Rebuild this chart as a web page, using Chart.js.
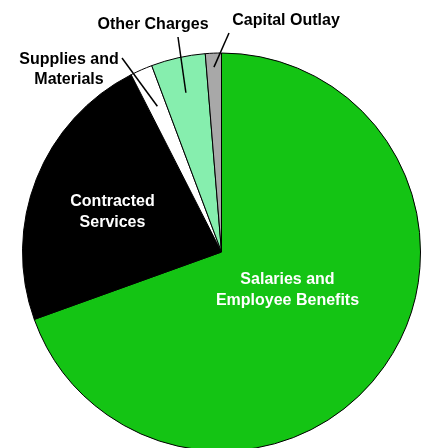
<!DOCTYPE html>
<html lang="en">
<head>
<meta charset="UTF-8">
<title>Expenditures</title>
<style>
    html, body {
        margin: 0;
        padding: 0;
        overflow: hidden;
        background: #ffffff;
    }
    .wrap {
        position: absolute;
        left: 0;
        top: 0;
        width: 423px;
        height: 500px;
    }
</style>
<script src="https://cdn.jsdelivr.net/npm/chart.js"></script>
</head>
<body>
<div class="wrap">
    <canvas id="pieChart"></canvas>
</div>
<script>
    // slices, clockwise from 12 o'clock
    const categories = ['Salaries and Employee Benefits', 'Contracted Services', 'Supplies and Materials', 'Other Charges', 'Capital Outlay'];
    const shares = [69.5, 23.0, 1.8, 4.4, 1.3];
    const sliceColors = ['#14c414', '#000000', '#ffffff', '#86eeae', '#a8a8a8'];

    // label text lines
    const insideLabels = [['Salaries and', 'Employee Benefits'], ['Contracted', 'Services']];
    const outsideLabels = [['Supplies and', 'Materials'], ['Other Charges'], ['Capital Outlay']];

    const labelPlugin = {
        id: 'sliceLabels',
        afterDraw(chart) {
            const c = chart.ctx;
            const arcs = chart.getDatasetMeta(0).data;
            const cx = arcs[0].x, cy = arcs[0].y, r = arcs[0].outerRadius;
            c.save();
            c.font = 'bold 16px "Liberation Sans", Arial, sans-serif';
            c.textAlign = 'center';
            c.textBaseline = 'middle';

            // white text inside the two big slices (offsets from centre)
            const inside = [[66, 38], [-109, -40]];
            insideLabels.forEach((lines, i) => {
                const tx = cx + inside[i][0];
                const ty = cy + inside[i][1];
                c.fillStyle = '#ffffff';
                lines.forEach((t, k) => c.fillText(t, tx, ty + k * 21 - (lines.length - 1) * 10.5));
            });

            // outer labels with leader lines into the thin slices
            const spots = [
                {x: 69, y: 60, from: [122, 58], depth: 0.80},
                {x: 153, y: 25, from: [178, 37], depth: 0.82},
                {x: 286, y: 21, from: [229, 33], depth: 0.93}
            ];
            outsideLabels.forEach((lines, i) => {
                const arc = arcs[i + 2];
                const mid = (arc.startAngle + arc.endAngle) / 2;
                const s = spots[i];
                c.fillStyle = '#000000';
                lines.forEach((t, k) => c.fillText(t, s.x, s.y + k * 20));
                c.strokeStyle = '#000000';
                c.lineWidth = 1.5;
                c.beginPath();
                c.moveTo(s.from[0], s.from[1]);
                c.lineTo(cx + Math.cos(mid) * r * s.depth, cy + Math.sin(mid) * r * s.depth);
                c.stroke();
            });
            c.restore();
        }
    };

    const ctx = document.getElementById('pieChart').getContext('2d');
    const pieChart = new Chart(ctx, {
        type: 'pie',
        data: {
            labels: categories,
            datasets: [{
                data: shares,
                backgroundColor: sliceColors,
                borderColor: '#000000',
                borderWidth: 1
            }]
        },
        options: {
            responsive: true,
            maintainAspectRatio: false,
            animation: false,
            layout: {
                padding: {left: 22, right: 2, top: 52, bottom: 48}
            },
            plugins: {
                legend: {display: false},
                tooltip: {enabled: false}
            }
        },
        plugins: [labelPlugin]
    });
</script>
</body>
</html>
